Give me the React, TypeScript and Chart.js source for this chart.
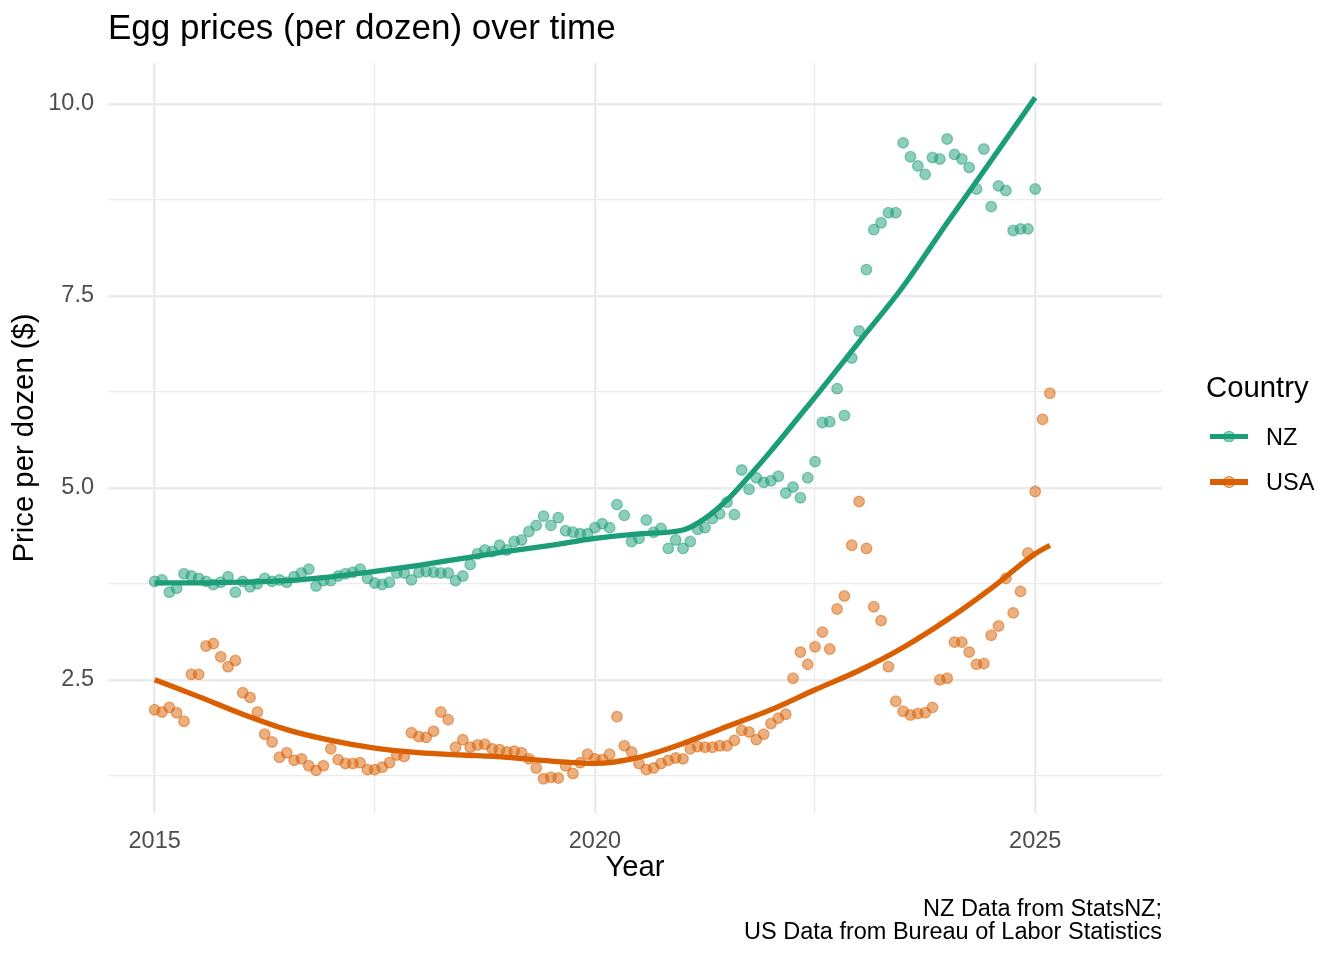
import React, { useEffect, useRef } from "react";
import { Chart, registerables } from "chart.js";

Chart.register(...registerables);

const FONT = "'Liberation Sans', Arial, Helvetica, sans-serif";

const titleText = "Egg prices (per dozen) over time";
const captionLines = ["NZ Data from StatsNZ;", "US Data from Bureau of Labor Statistics"];
const xTitle = "Year";
const yTitle = "Price per dozen ($)";
const legendTitle = "Country";

const countries = ["NZ", "USA"];
const colors = ["#1B9E77", "#D95F02"];
const pointColors = ["rgba(27,158,119,0.5)", "rgba(217,95,2,0.5)"];

const startYear = 2015;

// Monthly prices, Jan 2015 onward
const nzPrices = [
  3.78, 3.8, 3.64, 3.69, 3.88, 3.85, 3.82, 3.78, 3.74, 3.77, 3.84, 3.64,
  3.78, 3.71, 3.75, 3.82, 3.78, 3.8, 3.77, 3.84, 3.89, 3.94, 3.72, 3.79,
  3.79, 3.85, 3.88, 3.9, 3.94, 3.82, 3.76, 3.74, 3.77, 3.89, 3.89, 3.8,
  3.9, 3.91, 3.9, 3.89, 3.89, 3.79, 3.85, 4.0, 4.14, 4.19, 4.17, 4.25,
  4.19, 4.3, 4.32, 4.43, 4.51, 4.63, 4.51, 4.61, 4.44, 4.42, 4.4, 4.4,
  4.48, 4.53, 4.48, 4.78, 4.64, 4.3, 4.34, 4.58, 4.42, 4.47, 4.21, 4.32,
  4.21, 4.3, 4.46, 4.48, 4.6, 4.66, 4.81, 4.65, 5.23, 4.98, 5.13, 5.07,
  5.09, 5.15, 4.93, 5.01, 4.87, 5.13, 5.34, 5.85, 5.86, 6.29, 5.94, 6.69,
  7.04, 7.84, 8.36, 8.45, 8.58, 8.58, 9.49, 9.31, 9.19, 9.08, 9.3, 9.28,
  9.54, 9.34, 9.28, 9.17, 8.89, 9.41, 8.66, 8.93, 8.87, 8.35, 8.37, 8.37,
  8.89,
];

const usaPrices = [
  2.11, 2.08, 2.14, 2.07, 1.96, 2.57, 2.57, 2.94, 2.97, 2.8, 2.67, 2.75,
  2.33, 2.27, 2.08, 1.79, 1.69, 1.49, 1.55, 1.45, 1.47, 1.38, 1.32, 1.38,
  1.6, 1.46, 1.41, 1.41, 1.42, 1.33, 1.33, 1.36, 1.42, 1.52, 1.5, 1.81,
  1.76, 1.75, 1.83, 2.08, 1.98, 1.62, 1.72, 1.62, 1.65, 1.66, 1.6, 1.59,
  1.56, 1.57, 1.55, 1.47, 1.35, 1.21, 1.23, 1.22, 1.38, 1.28, 1.42, 1.53,
  1.47, 1.46, 1.53, 2.02, 1.64, 1.56, 1.41, 1.33, 1.35, 1.41, 1.45, 1.48,
  1.47, 1.6, 1.63, 1.62, 1.62, 1.64, 1.64, 1.71, 1.84, 1.82, 1.72, 1.79,
  1.93, 2.0, 2.05, 2.52, 2.86, 2.7, 2.93, 3.12, 2.9, 3.42, 3.59, 4.25,
  4.82, 4.21, 3.45, 3.27, 2.67, 2.22, 2.09, 2.04, 2.06, 2.07, 2.14, 2.5,
  2.52, 2.99, 2.99, 2.86, 2.7, 2.71, 3.08, 3.2, 3.82, 3.37, 3.65, 4.15,
  4.95, 5.89, 6.23,
];

// Smoothed trend (loess)
const nzSmoothYears = [
  2015, 2015.5, 2016, 2016.5, 2017, 2017.5, 2018, 2018.5, 2019, 2019.5, 2020, 2020.5,
  2021, 2021.25, 2021.5, 2021.75, 2022, 2022.25, 2022.5, 2023, 2023.5, 2024, 2024.5, 2025,
];
const nzSmoothValues = [
  3.76, 3.76, 3.77, 3.79, 3.84, 3.91, 3.99, 4.08, 4.17, 4.25, 4.34, 4.4,
  4.45, 4.6, 4.84, 5.15, 5.48, 5.83, 6.18, 6.9, 7.62, 8.45, 9.26, 10.08,
];
const usaSmoothYears = [
  2015, 2015.5, 2016, 2016.5, 2017, 2017.5, 2018, 2018.5, 2019, 2019.5, 2020, 2020.5,
  2021, 2021.5, 2022, 2022.5, 2023, 2023.5, 2024, 2024.5, 2025, 2025.1667,
];
const usaSmoothValues = [
  2.5, 2.28, 2.05, 1.85, 1.71, 1.61, 1.55, 1.52, 1.49, 1.44, 1.41, 1.49,
  1.67, 1.89, 2.11, 2.37, 2.62, 2.92, 3.28, 3.69, 4.14, 4.25,
];

const xTicks = [2015, 2017.5, 2020, 2022.5, 2025];
const xLabelTicks = [2015, 2020, 2025];
const yTicks = [1.25, 2.5, 3.75, 5, 6.25, 7.5, 8.75, 10];
const yLabelTicks = [2.5, 5, 7.5, 10];

const xRange = [2014.47, 2026.44];
const yRange = [0.766, 10.53];

export default function App() {
  const canvasRef = useRef<HTMLCanvasElement | null>(null);

  useEffect(() => {
    const canvas = canvasRef.current;
    if (!canvas) return;
    const chart = new Chart(canvas, {
      type: "scatter",
      data: {
        datasets: [
          {
            label: "NZ smooth",
            data: nzSmoothYears.map((x, i) => ({ x, y: nzSmoothValues[i] })),
            showLine: true,
            borderColor: colors[0],
            borderWidth: 5.3,
            pointRadius: 0,
            cubicInterpolationMode: "monotone",
            order: 0,
          },
          {
            label: "USA smooth",
            data: usaSmoothYears.map((x, i) => ({ x, y: usaSmoothValues[i] })),
            showLine: true,
            borderColor: colors[1],
            borderWidth: 5.3,
            pointRadius: 0,
            cubicInterpolationMode: "monotone",
            order: 0,
          },
          {
            label: countries[0],
            data: nzPrices.map((y, i) => ({ x: startYear + i / 12, y })),
            showLine: false,
            backgroundColor: pointColors[0],
            borderColor: pointColors[0],
            borderWidth: 1.3,
            pointRadius: 5.3,
            order: 1,
          },
          {
            label: countries[1],
            data: usaPrices.map((y, i) => ({ x: startYear + i / 12, y })),
            showLine: false,
            backgroundColor: pointColors[1],
            borderColor: pointColors[1],
            borderWidth: 1.3,
            pointRadius: 5.3,
            order: 1,
          },
        ],
      },
      options: {
        animation: false,
        responsive: false,
        events: [],
        layout: { padding: { left: 0, right: 182, top: 0, bottom: 15 } },
        plugins: {
          legend: { display: false },
          tooltip: { enabled: false },
          title: {
            display: true,
            text: titleText,
            align: "start",
            fullSize: false,
            color: "#000000",
            font: { family: FONT, size: 35, weight: "normal", lineHeight: 1.2 },
            padding: { top: 8.5, bottom: 12.5 },
          },
          subtitle: {
            display: true,
            text: captionLines,
            position: "bottom",
            align: "end",
            fullSize: false,
            color: "#000000",
            font: { family: FONT, size: 23.5, weight: "normal", lineHeight: 1.02 },
            padding: { top: 11.4, bottom: 0 },
          },
        },
        scales: {
          x: {
            type: "linear",
            min: xRange[0],
            max: xRange[1],
            afterBuildTicks: (axis: any) => {
              axis.ticks = xTicks.map((v) => ({ value: v }));
            },
            ticks: {
              autoSkip: false,
              maxRotation: 0,
              padding: 14.5,
              color: "#4D4D4D",
              font: { family: FONT, size: 23.5, lineHeight: 1.2 },
              callback: (v: any) => (xLabelTicks.includes(Number(v)) ? String(v) : ""),
            },
            grid: {
              color: "#EBEBEB",
              drawTicks: false,
              lineWidth: (c: any) => (c.tick && xLabelTicks.includes(c.tick.value) ? 2.4 : 1.2),
            },
            border: { display: false },
            title: {
              display: true,
              text: xTitle,
              color: "#000000",
              font: { family: FONT, size: 29.3, lineHeight: 1.2 },
              padding: { top: -19.6, bottom: 0 },
            },
          },
          y: {
            type: "linear",
            min: yRange[0],
            max: yRange[1],
            afterBuildTicks: (axis: any) => {
              axis.ticks = yTicks.map((v) => ({ value: v }));
            },
            ticks: {
              autoSkip: false,
              padding: 14,
              color: "#4D4D4D",
              font: { family: FONT, size: 23.5, lineHeight: 1.2 },
              callback: (v: any) => (yLabelTicks.includes(Number(v)) ? Number(v).toFixed(1) : ""),
            },
            grid: {
              color: "#EBEBEB",
              drawTicks: false,
              lineWidth: (c: any) => (c.tick && yLabelTicks.includes(c.tick.value) ? 2.4 : 1.2),
            },
            border: { display: false },
            title: {
              display: true,
              text: yTitle,
              color: "#000000",
              font: { family: FONT, size: 29.3, lineHeight: 1.2 },
              padding: { top: 7.4, bottom: -8.3 },
            },
          },
        },
      } as any,
    });
    return () => chart.destroy();
  }, []);

  const legendY = [436.5, 482];

  return (
    <div
      style={{
        position: "absolute",
        left: 0,
        top: 0,
        width: 1344,
        height: 960,
        background: "#ffffff",
        fontFamily: FONT,
      }}
    >
      <canvas
        ref={canvasRef}
        width={1344}
        height={960}
        style={{ position: "absolute", left: 0, top: 0, width: 1344, height: 960 }}
      />
      <div
        style={{
          position: "absolute",
          left: 1206,
          top: 387 - 18,
          height: 36,
          lineHeight: "36px",
          fontSize: 29.3,
          color: "#000",
          whiteSpace: "nowrap",
        }}
      >
        {legendTitle}
      </div>
      {countries.map((c, i) => (
        <React.Fragment key={c}>
          <div
            style={{
              position: "absolute",
              left: 1229 - 5.6,
              top: legendY[i] - 5.6,
              width: 11.2,
              height: 11.2,
              borderRadius: "50%",
              boxSizing: "border-box",
              background: pointColors[i],
              border: `1.3px solid ${pointColors[i]}`,
            }}
          />
          <div
            style={{
              position: "absolute",
              left: 1210,
              top: legendY[i] - 2.65,
              width: 38,
              height: 5.3,
              background: colors[i],
            }}
          />
          <div
            style={{
              position: "absolute",
              left: 1266,
              top: legendY[i] - 15,
              height: 30,
              lineHeight: "30px",
              fontSize: 23.5,
              color: "#000",
              whiteSpace: "nowrap",
            }}
          >
            {c}
          </div>
        </React.Fragment>
      ))}
    </div>
  );
}
